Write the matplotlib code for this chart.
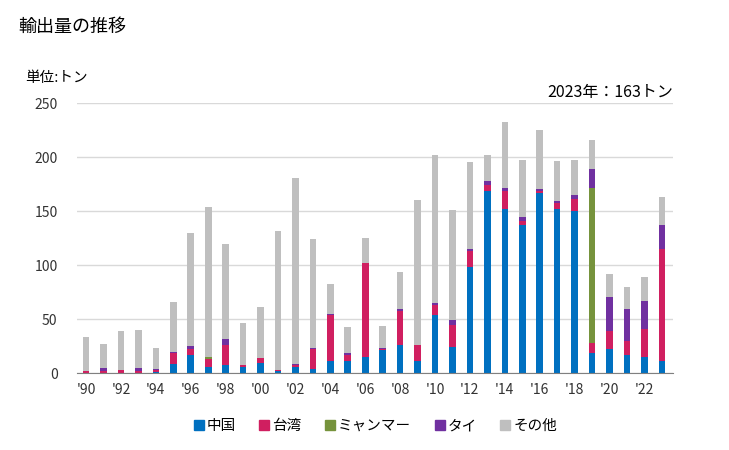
import matplotlib
matplotlib.use("Agg")
import matplotlib.pyplot as plt
import numpy as np

plt.rcParams["font.family"] = ["Noto Sans CJK JP", "DejaVu Sans"]

years = list(range(1990, 2024))
china = [0, 0, 0, 0, 1, 8.6, 16.4, 5.2, 7.4, 5.9, 9.3, 1.9, 5.9, 4, 10.8, 10.8, 14.5, 21,
         26.2, 10.8, 53.4, 23.8, 97.8, 168.2, 151.5, 136.7, 167, 151.5, 150.3, 18.8, 22.5, 17, 15.1, 10.8]
taiwan = [1.5, 2, 3, 2, 2, 10, 6.2, 8, 18.5, 1.9, 4.9, 1.2, 1.5, 17.9, 42.6, 5.6, 87, 1.5,
          31.5, 15.4, 9.3, 20.4, 15.4, 5.6, 17.3, 4.3, 1.9, 5.6, 11.1, 8.6, 16, 12.3, 25.9, 103.7]
myanmar = [0, 0, 0, 0, 0, 0, 0, 1.2, 0, 0, 0, 0, 0, 0, 0, 0, 0, 0,
           0, 0, 0, 0, 0, 0, 0, 0, 0, 0, 0, 144.1, 0, 0, 0, 0]
thai = [0.5, 3, 0, 3, 1, 1.2, 2.2, 0.6, 5.9, 0, 0, 0, 0.6, 0.9, 0.9, 1.9, 0.6, 0.6,
        1.9, 0, 1.9, 4.6, 1.9, 3.7, 2.8, 3.7, 1.9, 2.5, 3.7, 17.6, 32.1, 30.2, 25.3, 22.8]
other = [31.5, 22, 36, 35, 19.5, 46, 105, 139, 88, 38.8, 47, 128.7, 172.9, 101.6, 28.4, 24.7, 23.2, 20.7,
         34.2, 134.3, 137.6, 102.4, 80.6, 24.7, 61.1, 52.8, 54.5, 37, 32.4, 26.9, 21.3, 20.4, 22.8, 25.9]

series = [("中国", china, "#0070C0"),
          ("台湾", taiwan, "#D01F60"),
          ("ミャンマー", myanmar, "#76933C"),
          ("タイ", thai, "#7030A0"),
          ("その他", other, "#BFBFBF")]

fig = plt.figure(figsize=(7.29, 4.5), dpi=100)
ax = fig.add_axes([0.1056, 0.171, 0.8174, 0.6])

x = np.arange(len(years))
bottom = np.zeros(len(years))
for name, vals, col in series:
    ax.bar(x, vals, width=0.38, bottom=bottom, color=col, label=name, zorder=3)
    bottom += np.array(vals)

ax.set_ylim(0, 250)
ax.set_xlim(-0.52, 33.63)
ax.set_yticks(range(0, 251, 50))
ax.set_xticks(x[::2])
ax.set_xticklabels([f"'{y % 100:02d}" for y in years[::2]])
ax.tick_params(axis="both", length=0, labelsize=10, colors="#333333")
ax.tick_params(axis="x", pad=7)
ax.tick_params(axis="y", pad=14)
ax.grid(axis="y", color="#D9D9D9", linewidth=1, zorder=0)
for s in ["top", "right", "left"]:
    ax.spines[s].set_visible(False)
ax.spines["bottom"].set_color("#808080")
ax.spines["bottom"].set_zorder(4)

fig.text(0.025, 0.94, "輸出量の推移", fontsize=13, va="center", ha="left")
fig.text(0.034, 0.827, "単位:トン", fontsize=10.5, va="center", ha="left")
fig.text(0.923, 0.795, "2023年：163トン", fontsize=11.5, va="center", ha="right")

handles = [plt.Rectangle((0, 0), 1, 1, color=c) for _, _, c in series]
fig.legend(handles, [n for n, _, _ in series], loc="center", bbox_to_anchor=(0.515, 0.053),
           ncol=5, frameon=False, fontsize=10.5, handlelength=0.7, handleheight=0.7,
           handletextpad=0.2, columnspacing=1.6)

fig.savefig("out.png", dpi=100)
